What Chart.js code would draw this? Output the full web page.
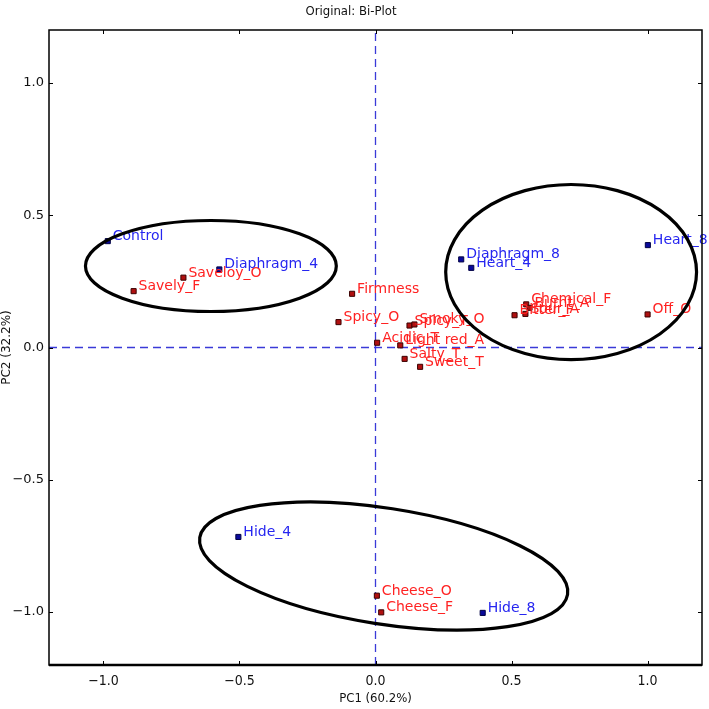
<!DOCTYPE html>
<html>
<head>
<meta charset="utf-8">
<script src="https://cdn.jsdelivr.net/npm/chart.js@4"></script>
<style>
  html, body { margin: 0; padding: 0; background: #fff; }
  #wrap { width: 709px; height: 709px; }
</style>
</head>
<body>
<div id="wrap"><canvas id="biplot"></canvas></div>
<script>
// samples (blue)
const sampleNames = ['Control', 'Diaphragm_4', 'Diaphragm_8', 'Heart_4', 'Heart_8', 'Hide_4', 'Hide_8'];
const sampleX = [-0.984, -0.574, 0.315, 0.352, 1.001, -0.504, 0.394];
const sampleY = [0.402, 0.295, 0.333, 0.301, 0.387, -0.716, -1.003];

// attributes (red)
const attrNames = ['Savely_F', 'Saveloy_O', 'Firmness', 'Spicy_O', 'Acidic_T', 'Spicy_T', 'Smoky_O',
  'Light red_A', 'Salty_T', 'Sweet_T', 'Bitter_F', 'Sour_A', 'Chemical_F', 'Burnt_A', 'Off_O',
  'Cheese_O', 'Cheese_F'];
const attrX = [-0.889, -0.706, -0.086, -0.136, 0.006, 0.125, 0.143, 0.091, 0.107, 0.164,
  0.511, 0.551, 0.554, 0.566, 1.0, 0.005, 0.021];
const attrY = [0.213, 0.264, 0.203, 0.096, 0.018, 0.083, 0.087, 0.008, -0.043, -0.073,
  0.122, 0.127, 0.163, 0.150, 0.125, -0.938, -1.001];

// group ellipses (centre, semi-axes in data units, tilt in degrees)
const ellipseCX = [-0.605, 0.719, 0.03];
const ellipseCY = [0.308, 0.285, -0.826];
const ellipseRX = [0.461, 0.461, 0.684];
const ellipseRY = [0.172, 0.331, 0.219];
const ellipseRot = [0, 0, 8.8];

const xTicks = [-1.0, -0.5, 0.0, 0.5, 1.0];
const yTicks = [-1.0, -0.5, 0.0, 0.5, 1.0];
const axisMin = -1.2, axisMax = 1.2;

const pts = (xs, ys) => xs.map((x, i) => ({ x: x, y: ys[i] }));
const fmt = v => (v < 0 ? '\u2212' : '') + Math.abs(v).toFixed(1);
const NARROW = '"DejaVu Sans Condensed", "DejaVu Sans", sans-serif';

// labels next to each marker
const labelPlugin = {
  id: 'pointLabels',
  afterDatasetsDraw(chart) {
    const ctx = chart.ctx;
    ctx.save();
    ctx.font = '14px "DejaVu Sans", sans-serif';
    ctx.textBaseline = 'alphabetic';
    ctx.textAlign = 'left';
    const groups = [[1, attrNames, '#ff2222'], [0, sampleNames, '#2626f0']];
    groups.forEach(([di, names, col]) => {
      const meta = chart.getDatasetMeta(di);
      ctx.fillStyle = col;
      meta.data.forEach((el, i) => ctx.fillText(names[i], el.x + 5, el.y - 1));
    });
    ctx.restore();
  }
};

// ellipses, inward ticks and frame
const decoPlugin = {
  id: 'deco',
  afterDraw(chart) {
    const { ctx, chartArea: a, scales: { x, y } } = chart;
    ctx.save();
    ctx.strokeStyle = '#000';
    ctx.lineWidth = 3.2;
    ellipseCX.forEach((cx, i) => {
      const px = x.getPixelForValue(cx), py = y.getPixelForValue(ellipseCY[i]);
      const rx = Math.abs(x.getPixelForValue(cx + ellipseRX[i]) - px);
      const ry = Math.abs(y.getPixelForValue(ellipseCY[i] + ellipseRY[i]) - py);
      ctx.beginPath();
      ctx.ellipse(px, py, rx, ry, ellipseRot[i] * Math.PI / 180, 0, Math.PI * 2);
      ctx.stroke();
    });
    ctx.lineWidth = 1;
    ctx.beginPath();
    xTicks.forEach(v => {
      const p = Math.round(x.getPixelForValue(v)) + 0.5;
      ctx.moveTo(p, a.bottom); ctx.lineTo(p, a.bottom - 4);
      ctx.moveTo(p, a.top); ctx.lineTo(p, a.top + 4);
    });
    yTicks.forEach(v => {
      const p = Math.round(y.getPixelForValue(v)) + 0.5;
      ctx.moveTo(a.left, p); ctx.lineTo(a.left + 4, p);
      ctx.moveTo(a.right, p); ctx.lineTo(a.right - 4, p);
    });
    ctx.stroke();
    ctx.lineWidth = 1.5;
    ctx.strokeRect(a.left, a.top, a.right - a.left, a.bottom - a.top);
    ctx.lineWidth = 2.5;
    ctx.beginPath();
    ctx.moveTo(a.left, a.bottom); ctx.lineTo(a.right, a.bottom);
    ctx.stroke();
    ctx.restore();
  }
};

new Chart(document.getElementById('biplot'), {
  type: 'scatter',
  data: {
    datasets: [
      {
        label: 'Samples',
        data: pts(sampleX, sampleY),
        pointStyle: 'rect',
        pointRadius: 3.6,
        backgroundColor: '#0a0a9a',
        borderColor: '#000044',
        borderWidth: 1
      },
      {
        label: 'Attributes',
        data: pts(attrX, attrY),
        pointStyle: 'rect',
        pointRadius: 3.6,
        backgroundColor: '#b01010',
        borderColor: '#3a0000',
        borderWidth: 1
      },
      {
        label: 'x0',
        data: [{ x: 0, y: axisMin }, { x: 0, y: axisMax }],
        showLine: true, pointRadius: 0,
        borderColor: '#3a3ad8', borderWidth: 1.3, borderDash: [8, 5]
      },
      {
        label: 'y0',
        data: [{ x: axisMin, y: 0 }, { x: axisMax, y: 0 }],
        showLine: true, pointRadius: 0,
        borderColor: '#3a3ad8', borderWidth: 1.3, borderDash: [8, 5]
      }
    ]
  },
  options: {
    responsive: true,
    maintainAspectRatio: false,
    animation: false,
    layout: { padding: { top: 0, right: 7, bottom: 0, left: 0 } },
    plugins: {
      legend: { display: false },
      tooltip: { enabled: false },
      title: {
        display: true,
        text: 'Original: Bi-Plot',
        color: '#111',
        font: { family: NARROW, size: 13, weight: 'normal' },
        padding: { top: 4, bottom: 10.4 }
      }
    },
    scales: {
      x: {
        type: 'linear',
        min: axisMin, max: axisMax,
        afterBuildTicks: s => { s.ticks = xTicks.map(v => ({ value: v })); },
        afterFit: s => { s.height = 44; },
        grid: { display: false, drawTicks: false },
        border: { display: false },
        ticks: {
          padding: 8,
          color: '#111',
          font: { family: NARROW, size: 14 },
          callback: v => fmt(v)
        },
        title: {
          display: true,
          text: 'PC1 (60.2%)',
          color: '#111',
          font: { family: NARROW, size: 13 },
          padding: { top: 0, bottom: 3 }
        }
      },
      y: {
        type: 'linear',
        min: axisMin, max: axisMax,
        afterBuildTicks: s => { s.ticks = yTicks.map(v => ({ value: v })); },
        afterFit: s => { s.width = 49; },
        grid: { display: false, drawTicks: false },
        border: { display: false },
        ticks: {
          padding: 5,
          color: '#111',
          font: { family: '"DejaVu Sans", sans-serif', size: 13 },
          callback: v => fmt(v)
        },
        title: {
          display: true,
          text: 'PC2 (32.2%)',
          color: '#111',
          font: { family: '"DejaVu Sans", sans-serif', size: 12 },
          padding: { top: 0, bottom: 0 }
        }
      }
    }
  },
  plugins: [labelPlugin, decoPlugin]
});
</script>
</body>
</html>
